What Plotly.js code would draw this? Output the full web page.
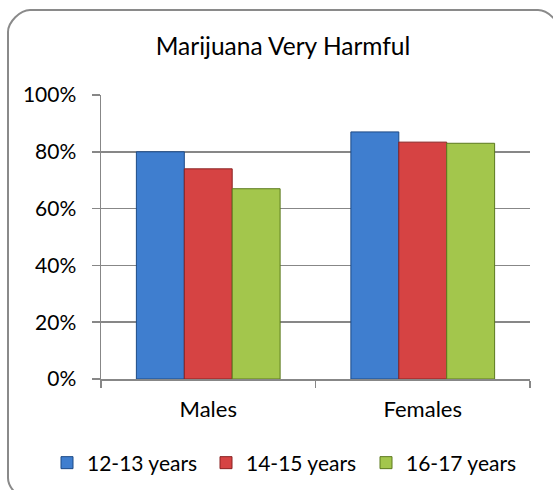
<!DOCTYPE html>
<html>
<head>
<meta charset="utf-8">
<script src="https://cdn.plot.ly/plotly-3.0.1.min.js"></script>
<style>
  html, body { margin: 0; padding: 0; background: #ffffff; }
  #chart { width: 553px; height: 490px; }
</style>
</head>
<body>
<div id="chart"></div>
<script>
// Share of respondents rating marijuana as "very harmful", by sex and age group
const groups = ["Males", "Females"];
const ageBands = ["12-13 years", "14-15 years", "16-17 years"];
const age1213 = [0.80, 0.87];
const age1415 = [0.74, 0.834];
const age1617 = [0.67, 0.83];

const fills = ["#3f7ecf", "#d64343", "#a3c64c"];
const edges = ["#1d4a86", "#8a2222", "#5c7a1e"];

const W = 553, H = 490;
const M = { l: 101, r: 23, t: 95, b: 111 };
const FONT = "Lato, 'Open Sans', sans-serif";

// pixel -> paper coordinate helpers for the frame drawn around the chart
const px = x => (x - M.l) / (W - M.l - M.r);
const py = y => 1 - (y - M.t) / (H - M.t - M.b);

function roundedFrame(x0, y0, x1, y1, rad) {
  const k = 0.45 * rad;
  return [
    `M ${px(x0 + rad)} ${py(y0)}`,
    `L ${px(x1 - rad)} ${py(y0)}`,
    `C ${px(x1 - rad + k)} ${py(y0)} ${px(x1)} ${py(y0 + rad - k)} ${px(x1)} ${py(y0 + rad)}`,
    `L ${px(x1)} ${py(y1 - rad)}`,
    `C ${px(x1)} ${py(y1 - rad + k)} ${px(x1 - rad + k)} ${py(y1)} ${px(x1 - rad)} ${py(y1)}`,
    `L ${px(x0 + rad)} ${py(y1)}`,
    `C ${px(x0 + rad - k)} ${py(y1)} ${px(x0)} ${py(y1 - rad + k)} ${px(x0)} ${py(y1 - rad)}`,
    `L ${px(x0)} ${py(y0 + rad)}`,
    `C ${px(x0)} ${py(y0 + rad - k)} ${px(x0 + rad - k)} ${py(y0)} ${px(x0 + rad)} ${py(y0)}`,
    "Z"
  ].join(" ");
}

// one legend per series so the three entries sit on a single row
const legendIds = ["legend", "legend2", "legend3"];
const legendLeft = [47, 206, 366];

const series = [age1213, age1415, age1617];
const traces = series.map((vals, i) => ({
  type: "bar",
  name: ageBands[i],
  x: groups,
  y: vals,
  legend: legendIds[i],
  showlegend: true,
  marker: { color: fills[i], line: { color: edges[i], width: 1 } },
  hoverinfo: "x+y+name"
}));

const layout = {
  width: W,
  height: H,
  margin: M,
  showlegend: true,
  paper_bgcolor: "#ffffff",
  plot_bgcolor: "#ffffff",
  font: { family: FONT, size: 21, color: "#000000" },
  title: {
    text: "Marijuana Very Harmful",
    font: { family: FONT, size: 24.5, color: "#000000" },
    xref: "container", x: 283 / W, xanchor: "center",
    yref: "container", y: 1 - 46 / H, yanchor: "middle"
  },
  barmode: "group",
  bargap: 0.33,
  bargroupgap: 0,
  xaxis: {
    type: "category",
    showline: true, linecolor: "#878787", linewidth: 1.5,
    ticks: "outside", tickson: "boundaries", ticklen: 7, tickcolor: "#878787", tickwidth: 1.5,
    showgrid: false,
    ticklabelstandoff: 10,
    tickfont: { family: FONT, size: 22, color: "#000000" }
  },
  yaxis: {
    range: [0, 1],
    dtick: 0.2,
    tickformat: ".0%",
    showline: true, linecolor: "#878787", linewidth: 1.5,
    ticks: "outside", ticklen: 8, tickcolor: "#878787", tickwidth: 1.5,
    showgrid: true, gridcolor: "#878787", gridwidth: 1.5,
    zeroline: false,
    ticklabelstandoff: 11,
    tickfont: { family: FONT, size: 21, color: "#000000" }
  },
  shapes: [{
    type: "path", xref: "paper", yref: "paper", layer: "below",
    path: roundedFrame(8, 10, 560, 500, 22),
    line: { color: "#8a8a8a", width: 2 }
  }]
};

legendIds.forEach((id, i) => {
  layout[id] = {
    orientation: "h",
    xref: "container", x: legendLeft[i] / W, xanchor: "left",
    yref: "container", y: 1 - 463 / H, yanchor: "middle",
    bgcolor: "rgba(0,0,0,0)",
    font: { family: FONT, size: 21, color: "#000000" },
    itemclick: false, itemdoubleclick: false
  };
});

Plotly.newPlot("chart", traces, layout, { displayModeBar: false, staticPlot: true });
</script>
</body>
</html>
